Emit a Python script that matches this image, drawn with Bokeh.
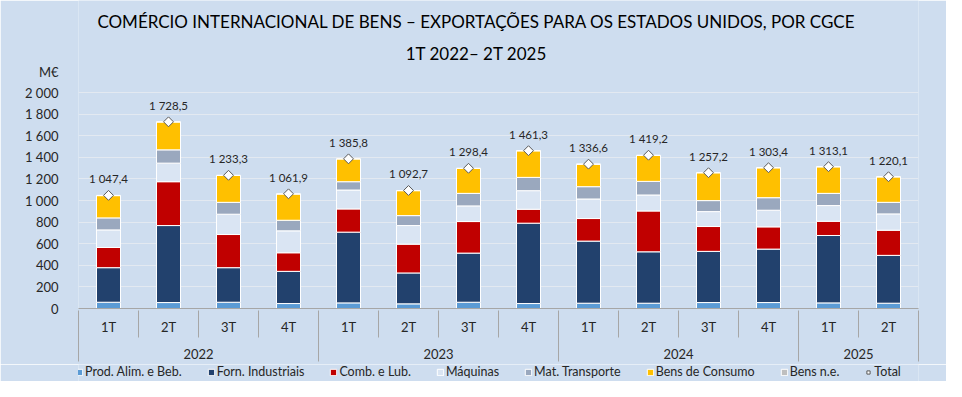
from bokeh.plotting import figure
from bokeh.layouts import column
from bokeh.models import (ColumnDataSource, Range1d, LinearAxis, FixedTicker, Legend,
                          LegendItem, Label)
from bokeh.core.properties import value
from bokeh.embed import file_html
from bokeh.resources import INLINE

# ---------------- data ----------------
quarters = ["1T", "2T", "3T", "4T", "1T", "2T", "3T", "4T", "1T", "2T", "3T", "4T", "1T", "2T"]
years = ["2022", "2023", "2024", "2025"]
quarters_per_year = [4, 4, 4, 2]

prod_alim = [58, 55, 58, 46, 52, 43, 58, 46, 49, 49, 55, 55, 52, 49]
forn_ind = [320, 713, 320, 298, 655, 286, 455, 744, 575, 476, 474, 495, 624, 443]
comb_lub = [187, 406, 307, 172, 215, 267, 292, 129, 209, 378, 230, 206, 132, 233]
maquinas = [163, 172, 188, 203, 175, 172, 145, 172, 181, 148, 138, 154, 145, 151]
mat_transp = [111, 123, 110, 98, 77, 92, 116, 123, 114, 126, 102, 116, 113, 107]
bens_consumo = [206, 258, 249, 243, 211, 231, 231, 246, 208, 240, 258, 277, 246, 236]
bens_ne = [2.4, 1.5, 1.3, 1.9, 0.8, 1.7, 1.4, 1.3, 0.6, 2.2, 0.2, 0.4, 1.1, 1.1]
totals = [1047.4, 1728.5, 1233.3, 1061.9, 1385.8, 1092.7, 1298.4, 1461.3,
          1336.6, 1419.2, 1257.2, 1303.4, 1313.1, 1220.1]

series_names = ["Prod. Alim. e Beb.", "Forn. Industriais", "Comb. e Lub.", "Máquinas",
                "Mat. Transporte", "Bens de Consumo", "Bens n.e."]
series_vals = [prod_alim, forn_ind, comb_lub, maquinas, mat_transp, bens_consumo, bens_ne]
series_colors = ["#5B9BD5", "#22416D", "#C00000", "#DAE5F3", "#9AA8BE", "#FFC000", "#BFBFBF"]

title_1 = "COMÉRCIO INTERNACIONAL DE BENS – EXPORTAÇÕES PARA OS ESTADOS UNIDOS, POR CGCE"
title_2 = "1T 2022– 2T 2025"
y_unit = "M€"
y_ticks = list(range(0, 2001, 200))
y_max = 2000

# ---------------- style / layout constants ----------------
FONT = "Lato"
BG = "#CEDDEF"
TXT = "#262626"
AXC = "#A6A6A6"
FRAME_H = 308          # frame height in px (frame spans from top of page)
PX_TOP = 92            # px from top where y_max lies
MAIN_H = 364
LEG_H = 17

def pt(v, dec=None):
    s = f"{v:,.0f}" if dec is None else f"{v:,.{dec}f}"
    return s.replace(",", " ").replace(".", ",")

n = len(quarters)
xc = [i + 0.5 for i in range(n)]
keys = ["s%d" % i for i in range(len(series_vals))]
data = {"x": xc, "total": totals, "lbl": [pt(t, 1) for t in totals]}
for k, v in zip(keys, series_vals):
    data[k] = v
src = ColumnDataSource(data)

units_per_px = y_max / (FRAME_H - PX_TOP)
y_end = FRAME_H * units_per_px

fig = figure(width=946, height=MAIN_H, output_backend="svg", toolbar_location=None,
             x_range=Range1d(0, n), y_range=Range1d(0, y_end),
             x_axis_location=None, min_border_left=78, min_border_right=28,
             min_border_top=0, min_border_bottom=MAIN_H - FRAME_H)
fig.background_fill_color = BG
fig.border_fill_color = BG
fig.outline_line_color = None
fig.xgrid.grid_line_color = None
fig.ygrid.ticker = FixedTicker(ticks=y_ticks)
fig.ygrid.grid_line_color = "#E3E9F1"
fig.ygrid.grid_line_width = 1

# y axis (unit shown above the top tick)
unit_tick = int(round(y_max + 21 * units_per_px))
ya = fig.yaxis[0]
ya.ticker = FixedTicker(ticks=y_ticks + [unit_tick])
overrides = {t: pt(t) for t in y_ticks}
overrides[unit_tick] = y_unit
ya.major_label_overrides = overrides
ya.axis_line_color = None
ya.major_tick_line_color = None
ya.minor_tick_line_color = None
ya.major_label_text_font = FONT
ya.major_label_text_font_size = "13px"
ya.major_label_text_color = TXT
ya.major_label_standoff = 14

# stacked bars
rs = fig.vbar_stack(keys, x="x", width=0.4, source=src, color=series_colors,
                    line_color="white", line_width=1)

# totals
dm = fig.scatter("x", "total", source=src, marker="square", angle=0.785398, size=7,
                 fill_color="white", line_color="#595959", line_width=1)
fig.text("x", "total", text="lbl", source=src, text_align="center", text_baseline="bottom",
         y_offset=-10, text_font=value(FONT), text_font_size="11.5px", text_color=TXT)

# titles
fig.add_layout(Label(x=n / 2, y=y_end, x_offset=-22, y_offset=-21, text=title_1,
                     text_align="center", text_baseline="middle", text_font=FONT,
                     text_font_size="17px", text_color="black"))
fig.add_layout(Label(x=n / 2, y=y_end, x_offset=-22, y_offset=-53, text=title_2,
                     text_align="center", text_baseline="middle", text_font=FONT,
                     text_font_size="17px", text_color="black"))

# category axes: quarters, then years
bounds = [0]
for c in quarters_per_year:
    bounds.append(bounds[-1] + c)
ycent = [(a + b) / 2 for a, b in zip(bounds[:-1], bounds[1:])]

def base_axis(ax):
    ax.major_tick_line_color = None
    ax.major_tick_out = 0
    ax.major_tick_in = 0
    ax.major_label_text_font = FONT
    ax.major_label_text_font_size = "13px"
    ax.major_label_text_color = TXT
    ax.minor_tick_line_color = AXC
    ax.minor_tick_out = 0

ax_q = LinearAxis(ticker=FixedTicker(ticks=xc))
base_axis(ax_q)
ax_q.major_label_overrides = {c: q for c, q in zip(xc, quarters)}
ax_q.axis_line_color = AXC
ax_q.minor_tick_in = 0
ax_q.major_label_standoff = 10
fig.add_layout(ax_q, "below")

ax_y = LinearAxis(ticker=FixedTicker(ticks=ycent, minor_ticks=list(range(n + 1))))
base_axis(ax_y)
ax_y.major_label_overrides = {c: y for c, y in zip(ycent, years)}
ax_y.axis_line_color = None
ax_y.minor_tick_in = 27
ax_y.major_label_standoff = 11
fig.add_layout(ax_y, "below")

ax_b = LinearAxis(ticker=FixedTicker(ticks=[], minor_ticks=bounds))
base_axis(ax_b)
ax_b.axis_line_color = None
ax_b.minor_tick_in = 28
ax_b.major_label_standoff = 0
fig.add_layout(ax_b, "below")

# ---------------- legend strip ----------------
lf = figure(width=946, height=LEG_H, output_backend="svg", toolbar_location=None,
            x_range=Range1d(-10, -9), y_range=Range1d(-10, -9),
            x_axis_location=None, y_axis_location=None,
            min_border_left=0, min_border_right=0, min_border_top=0, min_border_bottom=0)
lf.background_fill_color = BG
lf.border_fill_color = BG
lf.outline_line_color = None
lf.xgrid.visible = False
lf.ygrid.visible = False
lrs = lf.vbar_stack(keys, x="x", width=0.4, source=src, color=series_colors,
                    line_color="white", line_width=1)
ldm = lf.scatter("x", "total", source=src, marker="square", angle=0.785398, size=7,
                 fill_color="white", line_color="#595959", line_width=1)
items = [LegendItem(label=nm, renderers=[r]) for nm, r in zip(series_names, lrs)]
items.append(LegendItem(label="Total", renderers=[ldm]))
leg = Legend(items=items, orientation="horizontal", location=(-3, 2),
             glyph_width=8, glyph_height=8, label_standoff=2, spacing=25,
             label_text_font=FONT, label_text_font_size="12.5px", label_text_color=TXT,
             padding=0, margin=0, border_line_color=None, background_fill_alpha=0,
             label_height=14)
lf.add_layout(leg, "center")

p = column(fig, lf, spacing=0)
open("out.html", "w").write(file_html(p, INLINE))
